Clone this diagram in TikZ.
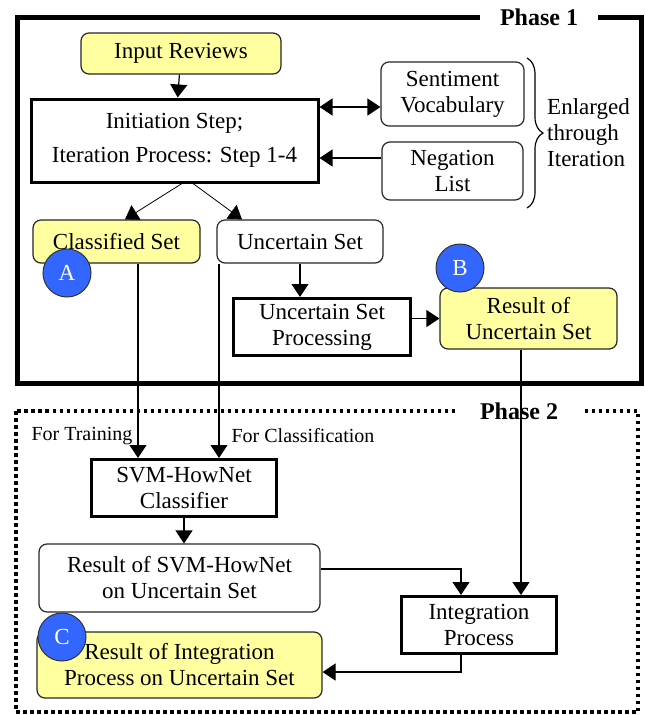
\documentclass[tikz,border=0pt]{standalone}
\usepackage{fontspec}
\setmainfont{Liberation Serif}
\usetikzlibrary{arrows.meta,decorations.pathreplacing}
\definecolor{paleyellow}{RGB}{255,255,160}
\definecolor{badgeblue}{RGB}{51,102,255}

\begin{document}
\begin{tikzpicture}[x=1pt,y=-1pt,font=\fontsize{23}{26}\selectfont,
  thickbox/.style={rectangle,draw,line width=3pt,align=center,inner sep=0pt},
  softbox/.style={rectangle,rounded corners=8pt,draw=black!85,line width=1.2pt,align=center,inner sep=0pt},
  badge/.style={circle,draw=black!80,line width=1pt,fill=badgeblue,text=white,minimum size=48,inner sep=0pt,font=\fontsize{23}{23}\selectfont},
  phase/.style={fill=white,inner ysep=2pt,font=\bfseries\fontsize{24}{28}\selectfont},
  arr/.style={-{Triangle[length=13pt,width=17pt]},line width=1.2pt},
  dblarr/.style={{Triangle[length=13pt,width=17pt]}-{Triangle[length=13pt,width=17pt]},line width=1.2pt}]
\useasboundingbox (0,0) rectangle (645,715);

\draw[line width=5pt] (17,17) rectangle (641,383);
\node[phase,inner xsep=20pt] (phaseone) at (539,17) {Phase 1};
\draw[line width=3.5pt,dash pattern=on 3.5pt off 3.5pt] (16,411) rectangle (638,712);
\node[phase,inner xsep=25pt] (phasetwo) at (519,411) {Phase 2};

\node[softbox,fill=paleyellow,minimum width=200,minimum height=41] (input) at (181,53.5) {Input Reviews};
\node[thickbox,minimum width=287,minimum height=83] (init) at (174.5,140.5) {Initiation Step;\\[8pt]Iteration Process: Step 1-4};
\node[softbox,minimum width=143,minimum height=64] (senti) at (452.5,94) {Sentiment\\Vocabulary};
\node[softbox,minimum width=141,minimum height=58] (neg) at (452.5,171) {Negation\\List};
\draw[line width=1.2pt,decorate,decoration={brace,amplitude=16pt}] (527,58) -- (527,208);
\node[align=left,anchor=west,inner sep=0pt] (enlarged) at (547,133) {Enlarged\\through\\Iteration};

\node[softbox,fill=paleyellow,minimum width=167,minimum height=43] (classified) at (116.5,241.5) {Classified Set};
\node[softbox,minimum width=166,minimum height=43] (uncertain) at (300,241.5) {Uncertain Set};
\node[thickbox,minimum width=177,minimum height=57] (usp) at (322,327) {Uncertain Set\\Processing};
\node[softbox,fill=paleyellow,minimum width=177,minimum height=61] (resunc) at (528.5,318.5) {Result of\\Uncertain Set};

\node[font=\fontsize{20}{24}\selectfont] (training) at (82,436) {For Training};
\node[font=\fontsize{20}{24}\selectfont] (classification) at (303,436) {For Classification};
\node[thickbox,minimum width=185,minimum height=57] (svm) at (184,488) {SVM-HowNet\\Classifier};
\node[softbox,minimum width=281,minimum height=68] (ressvm) at (179.5,578) {Result of SVM-HowNet\\on Uncertain Set};
\node[thickbox,minimum width=155,minimum height=57] (integ) at (479,625) {Integration\\Process};
\node[softbox,fill=paleyellow,minimum width=285,minimum height=66] (resint) at (179.5,665) {Result of Integration\\Process on Uncertain Set};

\draw[arr] (input) -- (init);
\draw[dblarr] ([yshift=-13pt]senti.west -| init.east) -- ([yshift=-13pt]senti.west);
\draw[arr] ([yshift=13pt]neg.west) -- ([yshift=13pt]neg.west -| init.east);
\draw[arr,line width=0.8pt] ([xshift=7.5pt]init.south) -- ([xshift=8.5pt]classified.north);
\draw[arr,line width=0.8pt] ([xshift=18.5pt]init.south) -- ([xshift=-58pt]uncertain.north);
\draw[arr] (uncertain) -- (uncertain.south |- usp.north);
\draw[arr] (resunc.west -| usp.east) -- (resunc.west);
\draw[arr] ([xshift=21.5pt]classified.south) -- ([xshift=21.5pt]classified.south |- svm.north);
\draw[arr] ([xshift=-81pt]uncertain.south) -- ([xshift=-81pt]uncertain.south |- svm.north);
\draw[arr] ([xshift=-7.5pt]resunc.south) -- ([xshift=-7.5pt]resunc.south |- integ.north);
\draw[arr] (svm.south) -- (svm.south |- ressvm.north);
\draw[arr] ([yshift=9pt]ressvm.east) -| ([xshift=-18pt]integ.north);
\draw[arr] ([xshift=-18pt]integ.south) |- ([yshift=-7pt]resint.east);

\node[badge] (badgeA) at (67,273) {A};
\node[badge] (badgeB) at (460,268) {B};
\node[badge] (badgeC) at (62,637) {C};
\end{tikzpicture}
\end{document}
